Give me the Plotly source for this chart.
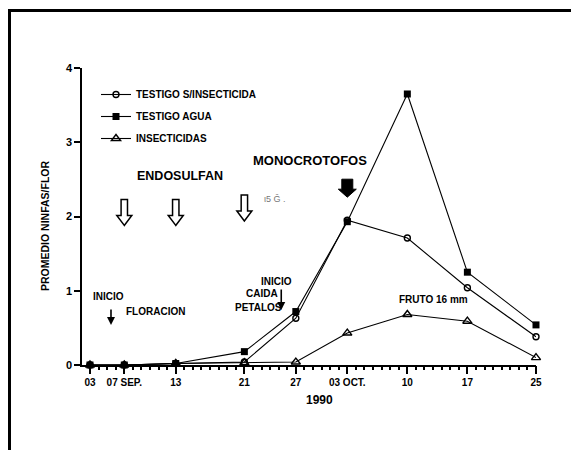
import plotly.graph_objects as go
import pandas as pd

# ---- data ----
dates = ["1990-09-03", "1990-09-07", "1990-09-13", "1990-09-21", "1990-09-27",
         "1990-10-03", "1990-10-10", "1990-10-17", "1990-10-25"]
tick_labels = ["03", "07 SEP.", "13", "21", "27", "03 OCT.", "10", "17", "25"]
testigo_sin = [0.0, 0.0, 0.02, 0.04, 0.63, 1.95, 1.71, 1.04, 0.38]
testigo_agua = [0.0, 0.0, 0.02, 0.18, 0.72, 1.93, 3.65, 1.25, 0.54]
insecticidas = [0.0, 0.0, 0.02, 0.03, 0.04, 0.43, 0.68, 0.59, 0.10]
series_names = ["TESTIGO S/INSECTICIDA", "TESTIGO AGUA", "INSECTICIDAS"]
endosulfan_dates = ["1990-09-07", "1990-09-13", "1990-09-21"]
monocrotofos_date = "1990-10-03"

start = pd.Timestamp("1990-09-03")


def d(days):
    return (start + pd.Timedelta(days=days)).strftime("%Y-%m-%d %H:%M:%S")


FONT = "Liberation Sans, Arial, sans-serif"
OFF = 8  # page body margin
W, H = 571, 442
ML, MR, MT, MB = 74, 43, 60, 85
PW, PH = W - ML - MR, H - MT - MB
TICKC = "black"


def px_x(p):
    return (p - OFF - ML) / PW


def px_y(p):
    return (H - MB - (p - OFF)) / PH


xrange_ = [d(-0.93), d(52)]

fig = go.Figure()
# invisible carrier trace for the daily minor-tick axis
fig.add_trace(go.Scatter(
    x=dates, y=insecticidas, xaxis="x2", yaxis="y", mode="lines",
    line=dict(color="rgba(0,0,0,0)", width=0), showlegend=False, hoverinfo="skip"))
fig.add_trace(go.Scatter(
    x=dates, y=testigo_sin, name=series_names[0], mode="lines+markers",
    line=dict(color="black", width=1.1),
    marker=dict(symbol="circle-open", size=6, color="black", line=dict(width=1.4)),
    legendgroup="a", cliponaxis=False))
fig.add_trace(go.Scatter(
    x=dates, y=testigo_agua, name=series_names[1], mode="lines+markers",
    line=dict(color="black", width=1.1),
    marker=dict(symbol="square", size=7, color="black"),
    legendgroup="b", cliponaxis=False))
fig.add_trace(go.Scatter(
    x=dates, y=insecticidas, name=series_names[2], mode="lines+markers",
    line=dict(color="black", width=1.1),
    marker=dict(symbol="triangle-up-open", size=8, color="black", line=dict(width=1.4)),
    legendgroup="c", cliponaxis=False))

shapes = []
# hollow arrows (endosulfan)
hollow = "M 0,0 L -7.5,10 L -3.2,10 L -3.2,26 L 3.2,26 L 3.2,10 L 7.5,10 Z"
for i, dt in enumerate(endosulfan_dates):
    shapes.append(dict(type="path", xref="x", yref="y", xsizemode="pixel", ysizemode="pixel",
                       xanchor=dt, yanchor=1.88 if i < 2 else 1.94, path=hollow,
                       line=dict(color="black", width=1.5), fillcolor="white"))
# filled arrow (monocrotofos)
filled = "M 0,0 L -9,8 L -5.5,8 L -5.5,18 L 5.5,18 L 5.5,8 L 9,8 Z"
shapes.append(dict(type="path", xref="x", yref="y", xsizemode="pixel", ysizemode="pixel",
                   xanchor=monocrotofos_date, yanchor=2.26, path=filled,
                   line=dict(color="black", width=1), fillcolor="black"))
# page frame (left and top)
shapes.append(dict(type="line", xref="paper", yref="paper",
                   x0=px_x(9.5), x1=px_x(9.5), y0=px_y(10), y1=px_y(452),
                   line=dict(color="black", width=3)))
shapes.append(dict(type="line", xref="paper", yref="paper",
                   x0=px_x(8), x1=px_x(581), y0=px_y(10.5), y1=px_y(10.5),
                   line=dict(color="black", width=3)))

bold = dict(family=FONT, size=10, color="black", weight="bold")
annotations = [
    dict(x=d(10.5), y=2.55, text="ENDOSULFAN", showarrow=False,
         font=dict(family=FONT, size=12.5, color="black", weight="bold")),
    dict(x=d(25.6), y=2.75, text="MONOCROTOFOS", showarrow=False,
         font=dict(family=FONT, size=13, color="black", weight="bold")),
    dict(x=d(21.6), y=2.24, text="ι5 Ĝ .", showarrow=False,
         font=dict(family=FONT, size=9, color="#777777")),
    # INICIO FLORACION
    dict(x=d(2.2), y=0.92, text="INICIO", showarrow=False, font=bold),
    dict(x=d(2.45), y=0.54, ax=0, ay=-17, text="", showarrow=True, arrowhead=2,
         arrowsize=1, arrowwidth=1.6, arrowcolor="black"),
    dict(x=d(7.6), y=0.72, text="FLORACION", showarrow=False, font=bold),
    # INICIO CAIDA PETALOS
    dict(x=d(21.8), y=1.12, text="INICIO", showarrow=False, font=bold),
    dict(x=d(20.0), y=0.96, text="CAIDA", showarrow=False, font=bold),
    dict(x=d(19.6), y=0.78, text="PETALOS", showarrow=False, font=bold),
    dict(x=d(22.3), y=0.74, ax=0, ay=-22, text="", showarrow=True, arrowhead=2,
         arrowsize=1, arrowwidth=1.6, arrowcolor="black"),
    # FRUTO
    dict(x=d(40.1), y=0.88, text="FRUTO 16 mm", showarrow=False, font=bold),
    # axis titles
    dict(x=d(26.8), y=px_y(400), yref="paper", yanchor="middle", xanchor="center",
         text="1990", showarrow=False,
         font=dict(family=FONT, size=12, color="black", weight="bold")),
    dict(x=px_x(45), xref="paper", y=px_y(226), yref="paper", xanchor="center",
         yanchor="middle", text="PROMEDIO NINFAS/FLOR", textangle=-90, showarrow=False,
         font=dict(family=FONT, size=10.5, color="black", weight="bold")),
]

fig.update_layout(
    width=W, height=H,
    margin=dict(l=ML, r=MR, t=MT, b=MB, pad=0),
    paper_bgcolor="white", plot_bgcolor="white",
    font=dict(family=FONT, color="black"),
    showlegend=True,
    legend=dict(x=px_x(96), y=px_y(80), xanchor="left", yanchor="top",
                bgcolor="rgba(0,0,0,0)", tracegroupgap=3,
                font=dict(family=FONT, size=10, color="black", weight="bold"),
                itemwidth=30),
    shapes=shapes, annotations=annotations,
    xaxis=dict(type="date", range=xrange_, showgrid=False, zeroline=False,
               showline=True, linecolor="black", linewidth=1.5,
               tickmode="array", tickvals=dates, ticktext=tick_labels, tickangle=0,
               ticks="outside", ticklen=7, tickwidth=1.6, tickcolor=TICKC,
               tickfont=dict(family=FONT, size=10, color="black", weight="bold")),
    xaxis2=dict(type="date", overlaying="x", matches="x", side="bottom", anchor="y",
                showgrid=False, zeroline=False, showline=False, showticklabels=False,
                tickmode="linear", tick0="1990-09-03", dtick=86400000,
                ticks="outside", ticklen=4, tickwidth=1.6, tickcolor=TICKC),
    yaxis=dict(range=[0, 4], showgrid=False, zeroline=False,
               showline=True, linecolor="black", linewidth=1.5,
               tickmode="array", tickvals=[0, 1, 2, 3, 4],
               ticks="outside", ticklen=6, tickwidth=1.6, tickcolor=TICKC,
               tickfont=dict(family=FONT, size=11, color="black", weight="bold")),
)

fig.write_html("out.html")
